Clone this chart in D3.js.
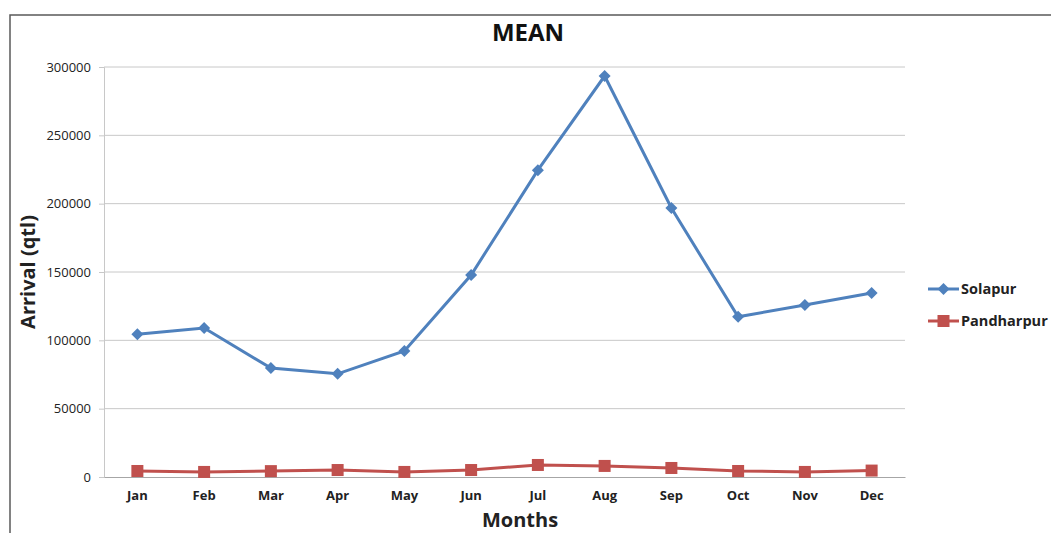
<!DOCTYPE html>
<html>
<head>
<meta charset="utf-8">
<script src="https://cdn.jsdelivr.net/npm/d3@7"></script>
<style>
  body { margin: 0; background: #fff; }
  text { font-family: "Open Sans", "Liberation Sans", sans-serif; }
</style>
</head>
<body>
<div id="chart"></div>
<script>
// monthly mean arrivals (qtl)
const months = ["Jan", "Feb", "Mar", "Apr", "May", "Jun", "Jul", "Aug", "Sep", "Oct", "Nov", "Dec"];
const solapur = [104500, 109000, 79700, 75500, 92200, 147800, 224500, 293400, 196800, 117200, 125900, 134600];
const pandharpur = [4400, 3700, 4300, 5100, 3700, 5100, 8800, 8100, 6600, 4400, 3700, 4700];
const yTicks = [0, 50000, 100000, 150000, 200000, 250000, 300000];

const width = 1051, height = 533;
const plotLeft = 104, plotRight = 905, plotTop = 67, plotBottom = 477;

const svg = d3.select("#chart").append("svg")
    .attr("width", width)
    .attr("height", height);

// outer chart frame (runs off the right / bottom)
svg.append("rect")
    .attr("x", 10).attr("y", 15)
    .attr("width", 1100).attr("height", 600)
    .attr("fill", "none")
    .attr("stroke", "#595959")
    .attr("stroke-width", 1.5);

let x = d3.scaleBand().domain(months).range([plotLeft, plotRight]);
let y = d3.scaleLinear().domain([0, 300000]).range([plotBottom, plotTop]);

// gridlines
svg.append("g")
    .selectAll("line")
    .data(yTicks.slice(1))
    .join("line")
    .attr("x1", plotLeft).attr("x2", plotRight)
    .attr("y1", d => y(d)).attr("y2", d => y(d))
    .attr("stroke", "#c8c8c8");

// y axis
let yAxis = svg.append("g")
    .attr("transform", `translate(${plotLeft},0)`)
    .call(d3.axisLeft(y).tickValues(yTicks).tickFormat(d3.format("d")).tickSizeOuter(0).tickSize(5).tickPadding(8));
yAxis.select(".domain").attr("stroke", "#c8c8c8");
yAxis.selectAll(".tick line").attr("stroke", "#c8c8c8");
yAxis.selectAll("text").attr("font-size", 13).attr("fill", "#222");

// x axis
let xAxis = svg.append("g")
    .attr("transform", `translate(0,${plotBottom})`)
    .call(d3.axisBottom(x).tickSize(0).tickPadding(14));
xAxis.select(".domain").attr("stroke", "#a6a6a6");
xAxis.selectAll("text").attr("font-size", 13).attr("font-weight", "bold").attr("fill", "#222");

const cx = m => x(m) + x.bandwidth() / 2;
const line = d3.line().x((d, i) => cx(months[i])).y(d => y(d));

const series = [
    { name: "Solapur", values: solapur, color: "#4f81bd", shape: "diamond" },
    { name: "Pandharpur", values: pandharpur, color: "#c0504d", shape: "square" }
];

function marker(sel, s) {
    if (s.shape === "diamond") {
        sel.append("path")
            .attr("d", "M0,-6L6,0L0,6L-6,0Z")
            .attr("fill", s.color);
    } else {
        sel.append("rect")
            .attr("x", -6).attr("y", -6)
            .attr("width", 12).attr("height", 12)
            .attr("fill", s.color);
    }
}

series.forEach(s => {
    svg.append("path")
        .datum(s.values)
        .attr("fill", "none")
        .attr("stroke", s.color)
        .attr("stroke-width", 3)
        .attr("d", line);
    svg.append("g")
        .selectAll("g")
        .data(s.values)
        .join("g")
        .attr("transform", (d, i) => `translate(${cx(months[i])},${y(d)})`)
        .each(function () { marker(d3.select(this), s); });
});

// legend
series.forEach((s, i) => {
    let g = svg.append("g").attr("transform", `translate(928,${289 + i * 32})`);
    g.append("line")
        .attr("x1", 0).attr("x2", 31)
        .attr("stroke", s.color).attr("stroke-width", 3);
    let m = g.append("g").attr("transform", "translate(15.5,0)");
    marker(m, s);
    g.append("text")
        .attr("x", 33).attr("y", 5)
        .attr("font-size", 14.5).attr("font-weight", "bold")
        .attr("fill", "#222")
        .text(s.name);
});

// titles
svg.append("text")
    .attr("x", 528).attr("y", 41)
    .attr("text-anchor", "middle")
    .attr("font-size", 24).attr("font-weight", "bold")
    .attr("fill", "#111")
    .text("MEAN");

svg.append("text")
    .attr("x", 520).attr("y", 527)
    .attr("text-anchor", "middle")
    .attr("font-size", 20).attr("font-weight", "bold")
    .attr("fill", "#222")
    .text("Months");

svg.append("text")
    .attr("transform", "translate(35,272) rotate(-90)")
    .attr("text-anchor", "middle")
    .attr("font-size", 20).attr("font-weight", "bold")
    .attr("fill", "#222")
    .text("Arrival (qtl)");
</script>
</body>
</html>
